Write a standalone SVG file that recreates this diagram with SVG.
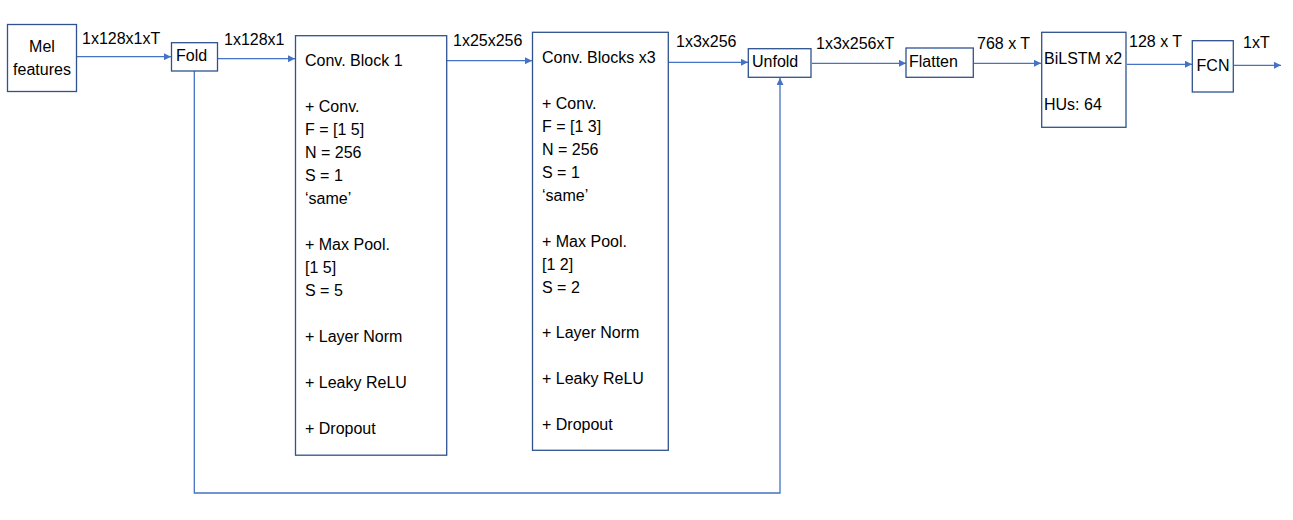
<svg xmlns="http://www.w3.org/2000/svg" width="1293" height="520" viewBox="0 0 1293 520">
<style>
.box{fill:#fff;stroke:#2F528F;stroke-width:1.3}
.t{font-family:"Liberation Sans",Arial,sans-serif;font-size:16px;fill:#000}
.c{fill:none;stroke:#4472C4;stroke-width:1.3}
</style>
<defs>
<marker id="ah" viewBox="0 0 10 10" refX="10" refY="5" markerWidth="7" markerHeight="7" markerUnits="userSpaceOnUse" orient="auto"><path d="M0,0 L10,5 L0,10 z" fill="#4472C4"/></marker>
</defs>
<rect width="1293" height="520" fill="#fff"/>
<g id="connectors">
<path class="c" d="M77,56.7 H171" marker-end="url(#ah)"/>
<path class="c" d="M218,58.7 H295" marker-end="url(#ah)"/>
<path class="c" d="M447,60.7 H532" marker-end="url(#ah)"/>
<path class="c" d="M669,62.3 H748" marker-end="url(#ah)"/>
<path class="c" d="M812,63.3 H906" marker-end="url(#ah)"/>
<path class="c" d="M974,63.3 H1041" marker-end="url(#ah)"/>
<path class="c" d="M1127,64.3 H1192" marker-end="url(#ah)"/>
<path class="c" d="M1234,65.3 H1281" marker-end="url(#ah)"/>
<path class="c" d="M194.3,71 V493 H780 V78" marker-end="url(#ah)"/>
<text class="t" x="82" y="44">1x128x1xT</text>
<text class="t" x="224" y="45">1x128x1</text>
<text class="t" x="453" y="46">1x25x256</text>
<text class="t" x="676" y="47">1x3x256</text>
<text class="t" x="816" y="49">1x3x256xT</text>
<text class="t" x="977" y="49">768 x T</text>
<text class="t" x="1129" y="47">128 x T</text>
<text class="t" x="1243" y="48">1xT</text>
</g>
<g id="mel">
<rect class="box" x="7.5" y="24.5" width="69" height="67"/>
<text class="t" x="42" y="52" text-anchor="middle">Mel</text>
<text class="t" x="42" y="75" text-anchor="middle">features</text>
</g>
<g id="fold">
<rect class="box" x="171.5" y="42.7" width="46" height="28.3"/>
<text class="t" x="176" y="61">Fold</text>
</g>
<g id="conv1">
<rect class="box" x="295.5" y="35.7" width="151.2" height="419.5"/>
<text class="t" x="305" y="66">Conv. Block 1</text>
<text class="t" x="305" y="112">+ Conv.</text>
<text class="t" x="305" y="135">F = [1 5]</text>
<text class="t" x="305" y="158">N = 256</text>
<text class="t" x="305" y="181">S = 1</text>
<text class="t" x="305" y="204">‘same’</text>
<text class="t" x="305" y="250">+ Max Pool.</text>
<text class="t" x="305" y="273">[1 5]</text>
<text class="t" x="305" y="296">S = 5</text>
<text class="t" x="305" y="342">+ Layer Norm</text>
<text class="t" x="305" y="388">+ Leaky ReLU</text>
<text class="t" x="305" y="434">+ Dropout</text>
</g>
<g id="conv3">
<rect class="box" x="532.5" y="32.3" width="135.8" height="418"/>
<text class="t" x="542" y="63">Conv. Blocks x3</text>
<text class="t" x="542" y="109">+ Conv.</text>
<text class="t" x="542" y="132">F = [1 3]</text>
<text class="t" x="542" y="155">N = 256</text>
<text class="t" x="542" y="178">S = 1</text>
<text class="t" x="542" y="201">‘same’</text>
<text class="t" x="542" y="247">+ Max Pool.</text>
<text class="t" x="542" y="270">[1 2]</text>
<text class="t" x="542" y="293">S = 2</text>
<text class="t" x="542" y="338">+ Layer Norm</text>
<text class="t" x="542" y="384">+ Leaky ReLU</text>
<text class="t" x="542" y="430">+ Dropout</text>
</g>
<g id="unfold">
<rect class="box" x="748.3" y="48.7" width="62.7" height="28.6"/>
<text class="t" x="752" y="67">Unfold</text>
</g>
<g id="flatten">
<rect class="box" x="906" y="48" width="67.3" height="29.3"/>
<text class="t" x="909" y="67">Flatten</text>
</g>
<g id="bilstm">
<rect class="box" x="1041.7" y="32.3" width="84.3" height="95"/>
<text class="t" x="1044" y="64">BiLSTM x2</text>
<text class="t" x="1044" y="110">HUs: 64</text>
</g>
<g id="fcn">
<rect class="box" x="1192.3" y="40.7" width="41" height="51.3"/>
<text class="t" x="1213" y="71" text-anchor="middle">FCN</text>
</g>
</svg>
